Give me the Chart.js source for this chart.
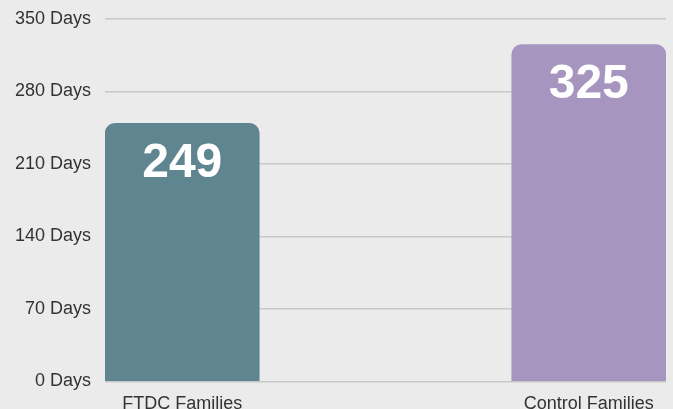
<!DOCTYPE html>
<html>
<head>
<meta charset="utf-8">
<script src="https://cdn.jsdelivr.net/npm/chart.js@4"></script>
<style>
  html, body { margin: 0; padding: 0; background: #ebebeb; overflow: hidden; }
  #wrap { width: 673px; height: 425px; margin-top: -6px; }
</style>
</head>
<body>
<div id="wrap"><canvas id="grafico"></canvas></div>
<script>
// Datos
const categorias = ['FTDC Families', 'Control Families'];
const valores = [249, 325];
const colores = ['#5f8690', '#a696bf'];
const ticksY = [0, 70, 140, 210, 280, 350];

// Etiquetas blancas dentro de cada barra
const etiquetasBarras = {
  id: 'etiquetasBarras',
  afterDatasetsDraw(chart) {
    const ctx = chart.ctx;
    const meta = chart.getDatasetMeta(0);
    ctx.save();
    ctx.fillStyle = '#ffffff';
    ctx.font = 'bold 48px "Liberation Sans", Arial, sans-serif';
    ctx.textAlign = 'center';
    ctx.textBaseline = 'middle';
    meta.data.forEach((barra, i) => {
      ctx.fillText(String(valores[i]), barra.x, barra.y + 40);
    });
    ctx.restore();
  }
};

new Chart(document.getElementById('grafico'), {
  type: 'bar',
  data: {
    datasets: [{
      data: valores.map((v, i) => ({ x: i, y: v })),
      backgroundColor: colores,
      borderRadius: 10,
      barThickness: 154
    }]
  },
  options: {
    responsive: true,
    maintainAspectRatio: false,
    animation: false,
    layout: { padding: { top: 1, right: 7, left: 0, bottom: 0 } },
    plugins: {
      legend: { display: false },
      tooltip: { enabled: false }
    },
    scales: {
      x: {
        type: 'linear',
        offset: false,
        min: -0.19,
        max: 1.19,
        grid: { display: false },
        border: { display: false },
        afterBuildTicks: scale => {
          scale.ticks = categorias.map((c, i) => ({ value: i }));
        },
        ticks: {
          padding: 4,
          color: '#333333',
          font: { family: '"Liberation Sans", Arial, sans-serif', size: 18 },
          callback: value => categorias[value]
        }
      },
      y: {
        min: 0,
        max: 350,
        afterFit: scale => { scale.width = 105; },
        afterBuildTicks: scale => {
          scale.ticks = ticksY.map(v => ({ value: v }));
        },
        grid: { color: '#c8c8c8', lineWidth: 1.5, drawTicks: false },
        border: { display: false },
        ticks: {
          padding: 14,
          color: '#333333',
          font: { family: '"Liberation Sans", Arial, sans-serif', size: 18 },
          callback: value => value + ' Days'
        }
      }
    }
  },
  plugins: [etiquetasBarras]
});
</script>
</body>
</html>
